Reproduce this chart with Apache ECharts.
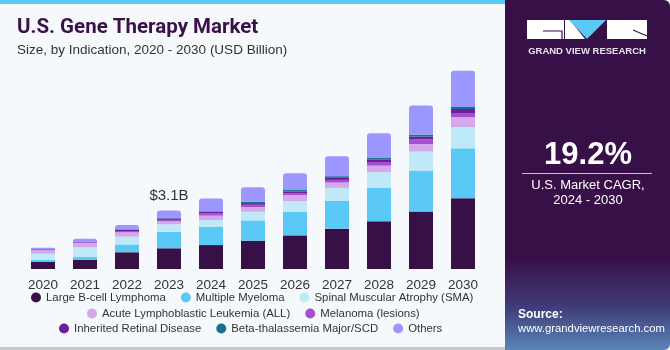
<!DOCTYPE html>
<html><head><meta charset="utf-8">
<script src="https://cdn.jsdelivr.net/npm/echarts@6/dist/echarts.min.js"></script>
<style>html,body{margin:0;padding:0;background:#fff}#c{width:670px;height:350px}</style>
</head><body><div id="c"></div>
<script>
var years = ['2020','2021','2022','2023','2024','2025','2026','2027','2028','2029','2030'];
var largeBCell = [0.37,0.49,0.88,1.09,1.26,1.49,1.77,2.12,2.51,3.02,3.72];
var multipleMyeloma = [0.12,0.16,0.41,0.86,0.95,1.07,1.24,1.47,1.77,2.16,2.63];
var sma = [0.32,0.49,0.41,0.40,0.37,0.45,0.56,0.68,0.81,1.00,1.12];
var all = [0.18,0.23,0.23,0.16,0.23,0.25,0.32,0.28,0.35,0.40,0.53];
var melanoma = [0.03,0.04,0.07,0.08,0.13,0.12,0.105,0.14,0.19,0.25,0.21];
var retinal = [0.02,0.03,0.07,0.07,0.07,0.09,0.09,0.105,0.14,0.14,0.21];
var betaThal = [0.01,0.01,0.02,0.05,0.03,0.07,0.07,0.09,0.07,0.105,0.105];
var others = [0.07,0.14,0.23,0.37,0.67,0.76,0.88,1.05,1.30,1.53,1.91];
var seriesNames = ['Large B-cell Lymphoma','Multiple Myeloma','Spinal Muscular Atrophy (SMA)','Acute Lymphoblastic Leukemia (ALL)','Melanoma (lesions)','Inherited Retinal Disease','Beta-thalassemia Major/SCD','Others'];
var seriesData = [largeBCell, multipleMyeloma, sma, all, melanoma, retinal, betaThal, others];
var colors = ['#381048','#5bc9f6','#bfe9f9','#d5a9e9','#a54ed0','#6b1f9b','#17708f','#9b97ff'];
var highlightYear = '2023';
var highlightLabel = '$3.1B';

var chart = echarts.init(document.getElementById('c'), null, {renderer:'canvas'});
var series = seriesNames.map(function(name, i){
  var isTop = i === seriesNames.length - 1;
  return {
    name: name, type: 'bar', stack: 'total', barWidth: 24,
    itemStyle: {color: colors[i], borderRadius: isTop ? [3,3,0,0] : 0},
    emphasis: {disabled: true},
    data: seriesData[i].map(function(v, j){
      if (isTop && years[j] === highlightYear) {
        return {value: v, label: {show: true, position: 'top', distance: 7, formatter: highlightLabel, fontSize: 15, color: '#333', fontFamily: 'Liberation Sans'}};
      }
      return v;
    })
  };
});
var legendCommon = {orient:'horizontal', icon:'circle', itemWidth:10, itemHeight:10, itemGap:15, textStyle:{fontSize:11.4, color:'#333', fontFamily:'Liberation Sans'}, selectedMode:false};
chart.setOption({
  backgroundColor: '#f5f9fc',
  animation: false,
  color: colors,
  title: [
    {text: 'U.S. Gene Therapy Market', left: 12, top: 12, textStyle:{fontSize:20.5, fontWeight:'bold', color:'#3a1148', fontFamily:'Roboto'}},
    {text: 'Size, by Indication, 2020 - 2030 (USD Billion)', left: 12, top: 38, textStyle:{fontSize:13.5, fontWeight:'normal', color:'#333', fontFamily:'Liberation Sans'}}
  ],
  legend: [
    Object.assign({data: seriesNames.slice(0,3), left: 26, top: 287}, legendCommon),
    Object.assign({data: seriesNames.slice(3,5), left: 82, top: 303}, legendCommon),
    Object.assign({data: seriesNames.slice(5,8), left: 54, top: 318}, legendCommon)
  ],
  grid: {left: 22, right: 186, top: 60, bottom: 81, containLabel: false},
  xAxis: {type:'category', data: years, axisLine:{show:false}, axisTick:{show:false}, axisLabel:{fontSize:13.5, color:'#333', margin:9, fontFamily:'Liberation Sans'}},
  yAxis: {type:'value', min:0, max:11, show:false, splitLine:{show:false}},
  series: series,
  graphic: [
    {type:'rect', shape:{x:0,y:0,width:505,height:4}, style:{fill:'#5bc9f6'}, z:10},
    {type:'rect', shape:{x:505,y:0,width:165,height:350, r:[0,6,6,0]}, style:{fill:new echarts.graphic.LinearGradient(0,0,0,1,[{offset:0,color:'#381048'},{offset:0.74,color:'#381048'},{offset:0.88,color:'#3f3d7a'},{offset:1,color:'#5a86b8'}])}, z:10},
    {type:'rect', shape:{x:0,y:347,width:505,height:3}, style:{fill:'#c8c8c8'}, z:10},
    // logo
    {type:'rect', shape:{x:527,y:20,width:37,height:19}, style:{fill:'#ffffff'}, z:11},
    {type:'polyline', shape:{points:[[543,31],[562,31],[562,39]]}, style:{stroke:'#381048', lineWidth:1.2, fill:null}, z:12},
    {type:'polygon', shape:{points:[[565,20],[570,20],[585,39],[565,39]]}, style:{fill:'#ffffff'}, z:11},
    {type:'polygon', shape:{points:[[569,20],[606,20],[587,39]]}, style:{fill:'#5bc9f6'}, z:11},
    {type:'rect', shape:{x:607,y:20,width:40,height:19}, style:{fill:'#ffffff'}, z:11},
    {type:'line', shape:{x1:633,y1:30,x2:647,y2:36}, style:{stroke:'#381048', lineWidth:1.2}, z:12},
    {type:'text', style:{x:587, y:51, text:'GRAND VIEW RESEARCH', fill:'#e8e4ee', font:'bold 9.5px "Liberation Sans"', align:'center', verticalAlign:'middle'}, z:11},
    {type:'text', style:{x:588, y:155, text:'19.2%', fill:'#ffffff', font:'bold 31px "Liberation Sans"', align:'center', verticalAlign:'middle'}, z:11},
    {type:'line', shape:{x1:522,y1:173.5,x2:652,y2:173.5}, style:{stroke:'#c9bfd3', lineWidth:1}, z:11},
    {type:'text', style:{x:588, y:185, text:'U.S. Market CAGR,', fill:'#ffffff', font:'13px "Liberation Sans"', align:'center', verticalAlign:'middle'}, z:11},
    {type:'text', style:{x:588, y:200, text:'2024 - 2030', fill:'#ffffff', font:'13px "Liberation Sans"', align:'center', verticalAlign:'middle'}, z:11},
    {type:'text', style:{x:518, y:315, text:'Source:', fill:'#ffffff', font:'bold 12px "Liberation Sans"', align:'left', verticalAlign:'middle'}, z:11},
    {type:'text', style:{x:518, y:329, text:'www.grandviewresearch.com', fill:'#ffffff', font:'11.3px "Liberation Sans"', align:'left', verticalAlign:'middle'}, z:11}
  ]
});
</script></body></html>
